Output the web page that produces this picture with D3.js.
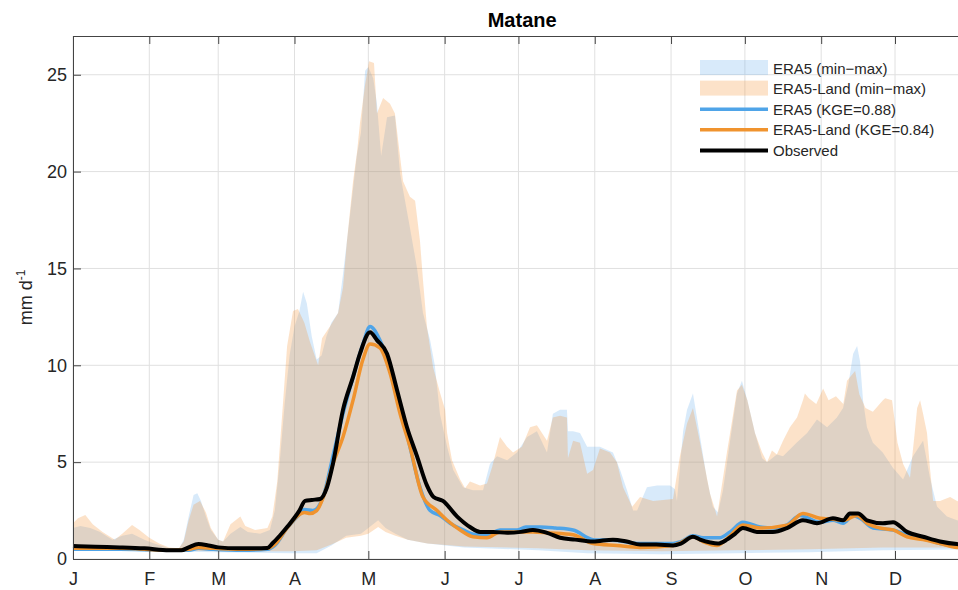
<!DOCTYPE html>
<html>
<head>
<meta charset="utf-8">
<script src="https://cdn.jsdelivr.net/npm/d3@7"></script>
<style>
body { margin: 0; background: #fff; }
svg { display: block; font-family: "Liberation Sans", Arial, sans-serif; }
</style>
</head>
<body>
<div id="chart"></div>
<script>
// month ticks (day of year) and labels
const monthStarts = [1, 32, 60, 91, 121, 152, 182, 213, 244, 274, 305, 335];
const monthLabels = ["J", "F", "M", "A", "M", "J", "J", "A", "S", "O", "N", "D"];
const yTicks = [0, 5, 10, 15, 20, 25];

// [day of year, mm/d]
const era5Max = [[1,1.6],[4,1.7],[8,1.6],[12,1.4],[17,1.0],[21,1.2],[25,1.3],[30,1.0],[34,0.8],[40,0.55],[44,0.5],[46,1.0],[48,2.2],[50,3.3],[51.5,3.4],[53,3.0],[55,2.2],[57,1.5],[60,1.0],[62,0.9],[65,1.3],[69,1.65],[72,1.4],[77,1.3],[81,1.5],[83,2.5],[85,5],[87,8],[89,10.5],[91,12],[93,12.8],[94.5,13.8],[96,13.2],[98,11.5],[100,10.3],[102,10.5],[104,11.5],[106,12.2],[108.7,12.7],[110.7,14.7],[113.6,17.8],[116.4,20.9],[118,22],[119.7,25.2],[121,25.4],[123,24.8],[124.5,23.5],[126.2,20.8],[128.6,22.8],[131.8,22.9],[133.9,19.9],[137.9,17.1],[140.8,15],[143.2,12.7],[146.1,11.3],[148,10],[150.1,7.5],[153,5.8],[155.5,4.6],[159.5,3.7],[163.5,3.55],[167.6,3.55],[170.4,4.9],[173.3,5.3],[177.4,5.1],[181.4,5.5],[185.5,6.3],[189.5,6.6],[193.6,5.5],[196,7.5],[198.9,7.7],[201.7,7.7],[202.1,6.6],[204.2,6.6],[207,6.5],[209.9,5.8],[215.1,5.8],[220.4,5.5],[223.3,4.6],[226.1,3.55],[228.6,2.5],[230.2,2.5],[234.2,3.7],[238.3,3.8],[243.6,3.8],[245.6,3.6],[246.4,3.0],[248.9,6.6],[250.5,7.7],[252.9,8.55],[255.8,6.3],[258.6,4.1],[261,2.7],[263.1,2.4],[265.1,3.55],[268,6.1],[270.8,8.55],[272.8,9.2],[275,8.2],[278.1,6.5],[281,5.2],[283,5.0],[287,5.4],[289.5,5.3],[295,6.0],[299.3,6.5],[303.3,7.2],[307.4,6.8],[311.4,7.3],[313.9,7.8],[316,9.0],[318,10.6],[319.6,11.0],[320.8,10.2],[322,8.2],[323.6,6.8],[326,6.0],[330,5.5],[334.2,4.7],[338.3,4.1],[342.3,5.3],[346.4,6.1],[349.2,4.2],[352.1,2.7],[356.1,2.2],[360.2,2.0],[365,1.9]];

const era5Min = [[1,0.45],[30,0.4],[60,0.35],[90,0.3],[100,0.3],[106,0.7],[112,1.2],[118,1.3],[121,1.6],[125,2.0],[128,1.6],[132,1.3],[137,1.0],[145,0.8],[160,0.6],[190,0.45],[210,0.3],[240,0.25],[270,0.3],[300,0.35],[330,0.45],[365,0.5]];

const landMax = [[1,1.85],[3,2.1],[6,2.27],[9,1.8],[13,1.4],[18,1.0],[21,1.3],[25,1.75],[28,1.5],[32,1.1],[36,0.8],[40,0.6],[44,0.55],[46,0.9],[48,2.0],[50,2.8],[52.6,3.0],[55,2.4],[57,1.6],[60,1.0],[62,0.9],[65,1.8],[69,2.2],[71,1.7],[75,1.5],[80,1.6],[82,2.2],[84,4],[86.3,8],[88,11],[90.4,12.8],[92.4,12.9],[95,12.2],[97.3,11.2],[100.6,10.0],[102.2,11.4],[105.4,12],[108.7,12.7],[110.7,14.0],[112.3,16.4],[114.8,19.5],[116.4,21],[117.6,22.5],[119.7,24.5],[121.3,25.7],[123.3,25.6],[124.5,23.0],[127,23.8],[129.8,23.5],[131.8,23],[135.1,19.5],[137.9,18.7],[140,18.5],[142,16.4],[143.2,14.4],[144.8,12],[147.3,9.9],[150.1,8.6],[152.2,7.7],[153,6.5],[155,5.1],[158.3,4.1],[160.3,3.65],[162.3,4.0],[166.4,3.8],[169.2,3.9],[171.3,4.75],[174.5,6.3],[177.4,5.8],[179.8,5.5],[183.4,5.8],[186.7,6.8],[189.5,6.9],[193.6,6.1],[196,7.3],[198.9,7.4],[201.7,7.3],[202.1,5.2],[204.2,6.1],[207,6.0],[209.9,4.4],[212.3,4.6],[215.1,5.7],[219.2,5.5],[222,5.0],[224.5,3.7],[228.2,2.7],[231.4,3.2],[236.7,3.0],[244.8,3.1],[247.6,5.3],[250.5,7.0],[252.9,7.8],[255.8,6.0],[259.8,3.4],[262.7,2.2],[266.7,5.5],[270.8,8.7],[272.8,9.0],[275,8.2],[278.1,6.5],[281,5.5],[283,5.0],[285,5.6],[287,5.4],[289.5,6.1],[292.3,6.8],[295.2,7.3],[297.6,8.2],[298.4,8.55],[300,8.3],[303,8.0],[305.8,8.8],[308,8.2],[311,8.4],[314,8.0],[315.5,9.2],[318.8,9.7],[320.5,8.5],[323,7.8],[326,7.6],[330.1,8.2],[331,8.3],[333.8,8.2],[336,6.0],[338.3,4.9],[341.1,4.2],[343,6.5],[344,7.8],[345.2,8.2],[346.4,7.5],[348,6.5],[349.2,4.7],[350.5,3.0],[353.3,3.0],[357.4,3.2],[360.2,3.0],[365,2.8]];

const landMin = [[1,0.5],[30,0.45],[60,0.4],[90,0.4],[100,0.45],[106,0.75],[112,1.1],[118,1.2],[121,1.3],[125,1.65],[128,1.4],[132,1.2],[137,1.0],[145,0.8],[160,0.65],[190,0.55],[210,0.45],[240,0.4],[270,0.45],[300,0.5],[330,0.6],[365,0.6]];

const era5Line = [[1,0.5],[20,0.5],[40,0.45],[48,0.45],[52,0.55],[58,0.5],[70,0.45],[80,0.5],[83,0.7],[88,1.6],[93,2.3],[95,2.55],[98.5,2.5],[102.6,3.2],[106.6,5.3],[110.7,7.5],[114.8,9.4],[118.8,11.1],[121.7,12.0],[125.7,11.3],[129.8,9.9],[133.9,8.0],[137.9,5.8],[142,3.7],[146.1,2.5],[150.1,2.25],[154.2,1.85],[159.5,1.5],[165.2,1.25],[169.2,1.25],[174.5,1.5],[181.4,1.5],[185,1.65],[190.8,1.65],[197,1.6],[204.2,1.5],[212.3,1.0],[222,0.95],[231.4,0.8],[244.8,0.8],[248,0.9],[252.9,1.2],[257,1.1],[263.9,1.1],[268,1.4],[273.2,1.9],[280.2,1.65],[285.4,1.6],[291,1.75],[296.4,2.25],[304.5,1.9],[309.8,2.0],[313.9,1.85],[318,2.25],[320.8,2.1],[326.1,1.6],[334.2,1.5],[339.9,1.25],[346.4,1.1],[353.3,0.8],[360.2,0.67],[365,0.65]];

const landLine = [[1,0.55],[20,0.55],[40,0.45],[48,0.5],[52,0.6],[58,0.55],[70,0.5],[80,0.55],[83,0.75],[88,1.6],[93,2.3],[95,2.4],[97.3,2.35],[100,2.5],[103,3.3],[106.6,4.9],[110.7,6.3],[114.8,8.2],[118.8,10.3],[121.7,11.1],[125.7,10.9],[129.8,9.6],[133.9,7.5],[137.9,5.8],[143.2,3.2],[148.9,2.5],[153,2.0],[158.3,1.5],[163.5,1.15],[169.2,1.1],[174.5,1.4],[187.9,1.4],[194,1.35],[204.2,1.25],[212.3,0.8],[222,0.7],[231.4,0.6],[244.8,0.7],[248,0.85],[252.9,1.15],[257,0.9],[262.7,0.7],[268,1.2],[273.2,1.75],[280.2,1.6],[291.1,1.75],[297.6,2.35],[304.5,2.1],[309.8,2.05],[313.9,2.0],[319.6,2.25],[323.6,1.85],[328.9,1.6],[334.2,1.5],[339.9,1.15],[346.4,1.0],[353.3,0.8],[360.2,0.6],[365,0.6]];

const observed = [[1,0.67],[10,0.63],[20,0.6],[30,0.55],[40,0.45],[45,0.45],[48,0.6],[52,0.77],[56,0.7],[60,0.6],[68,0.55],[75,0.55],[80,0.57],[82,0.8],[85,1.2],[88,1.65],[93,2.5],[95.3,3.0],[98,3.05],[101.4,3.1],[104.2,3.7],[106.6,4.9],[110.7,7.7],[114.8,9.4],[117.6,10.6],[121.7,11.7],[124.5,11.3],[128.6,10.6],[132.7,8.7],[136.7,6.8],[140.8,5.3],[144.8,3.8],[147.5,3.2],[151.3,3.0],[157,2.2],[162.3,1.65],[166.4,1.4],[171.7,1.4],[177.4,1.35],[183,1.4],[187.9,1.5],[193.6,1.35],[198.9,1.1],[205,1.0],[212.3,0.9],[220.4,1.0],[226,0.9],[231.4,0.75],[238,0.75],[244.8,0.7],[248,0.8],[252.9,1.15],[255.8,1.0],[260,0.85],[263,0.8],[266.7,1.0],[270,1.3],[273.2,1.6],[278.9,1.4],[285.4,1.4],[291.1,1.6],[297.6,2.0],[303.3,1.85],[309.8,2.1],[313.9,2.0],[316.7,2.35],[320,2.35],[323.6,2.0],[330.1,1.85],[334.2,1.9],[339.9,1.4],[346.4,1.15],[353.3,0.9],[360.2,0.77],[365,0.75]];

const width = 958, height = 590;

const x = d3.scaleLinear().domain([1, 366]).range([73, 971.3]);
const y = d3.scaleLinear().domain([0, 27]).range([559, 36]);

const svg = d3.select("#chart")
    .append("svg")
    .attr("width", width)
    .attr("height", height);

// grid
svg.append("g")
    .selectAll("line")
    .data(monthStarts)
    .enter().append("line")
    .attr("x1", d => x(d)).attr("x2", d => x(d))
    .attr("y1", y(27)).attr("y2", y(0))
    .attr("stroke", "#e0e0e0");

svg.append("g")
    .selectAll("line")
    .data(yTicks)
    .enter().append("line")
    .attr("x1", x(1)).attr("x2", x(366))
    .attr("y1", d => y(d)).attr("y2", d => y(d))
    .attr("stroke", "#e0e0e0");

const pts = d3.line().x(d => x(d[0])).y(d => y(d[1]));
const band = (upper, lower) => pts(upper.concat(lower.slice().reverse())) + "Z";

svg.append("path")
    .attr("d", band(era5Max, era5Min))
    .attr("fill", "rgb(100,170,235)")
    .attr("fill-opacity", 0.25);

svg.append("path")
    .attr("d", band(landMax, landMin))
    .attr("fill", "rgb(245,140,40)")
    .attr("fill-opacity", 0.25);

const smooth = d3.line()
    .x(d => x(d[0]))
    .y(d => y(d[1]))
    .curve(d3.curveMonotoneX);

svg.append("path")
    .attr("d", smooth(era5Line))
    .attr("fill", "none")
    .attr("stroke", "#4fa4e8")
    .attr("stroke-width", 3.5);

svg.append("path")
    .attr("d", smooth(landLine))
    .attr("fill", "none")
    .attr("stroke", "#f0932e")
    .attr("stroke-width", 3.5);

svg.append("path")
    .attr("d", smooth(observed))
    .attr("fill", "none")
    .attr("stroke", "#000")
    .attr("stroke-width", 4)
    .attr("stroke-linejoin", "round");

// axes
const styleAxis = g => {
    g.select(".domain").attr("stroke", "#444");
    g.selectAll(".tick line").attr("stroke", "#444");
    g.selectAll("text").attr("fill", "#262626").style("font-size", "18px").style("font-family", "\"Liberation Sans\", Arial, sans-serif");
};

svg.append("g")
    .attr("transform", `translate(0,${y(0)})`)
    .call(d3.axisBottom(x).tickValues(monthStarts).tickFormat((d, i) => monthLabels[i])
        .tickSizeInner(-8).tickSizeOuter(0).tickPadding(13))
    .call(styleAxis);

svg.append("g")
    .attr("transform", `translate(0,${y(27)})`)
    .call(d3.axisTop(x).tickValues(monthStarts).tickFormat("")
        .tickSizeInner(-8).tickSizeOuter(0))
    .call(styleAxis);

svg.append("g")
    .attr("transform", `translate(${x(1)},0)`)
    .call(d3.axisLeft(y).tickValues(yTicks).tickSizeInner(-8).tickSizeOuter(0).tickPadding(6))
    .call(styleAxis);

// y label
const ylab = svg.append("text")
    .attr("transform", `translate(32,${(y(0) + y(27)) / 2}) rotate(-90)`)
    .attr("text-anchor", "middle")
    .attr("fill", "#262626")
    .style("font-size", "18px");
ylab.append("tspan").text("mm d");
ylab.append("tspan").attr("dy", -7).style("font-size", "12px").text("-1");

// title
svg.append("text")
    .attr("x", (x(1) + x(366)) / 2)
    .attr("y", 27)
    .attr("text-anchor", "middle")
    .attr("font-weight", "bold")
    .attr("fill", "#000")
    .style("font-size", "20px")
    .text("Matane");

// legend
const legendItems = [
    { label: "ERA5 (min\u2212max)", type: "patch", color: "rgb(100,170,235)" },
    { label: "ERA5-Land (min\u2212max)", type: "patch", color: "rgb(245,140,40)" },
    { label: "ERA5 (KGE=0.88)", type: "line", color: "#4fa4e8", w: 3.5 },
    { label: "ERA5-Land (KGE=0.84)", type: "line", color: "#f0932e", w: 3.5 },
    { label: "Observed", type: "line", color: "#000", w: 4 }
];

const legend = svg.append("g").attr("transform", "translate(700,68)");
const item = legend.selectAll("g")
    .data(legendItems)
    .enter().append("g")
    .attr("transform", (d, i) => `translate(0,${i * 20.6})`);

item.filter(d => d.type === "patch").append("rect")
    .attr("x", 0).attr("y", -8).attr("width", 68).attr("height", 15)
    .attr("fill", d => d.color).attr("fill-opacity", 0.25);

item.filter(d => d.type === "line").append("line")
    .attr("x1", 0).attr("x2", 68).attr("y1", 0).attr("y2", 0)
    .attr("stroke", d => d.color).attr("stroke-width", d => d.w);

item.append("text")
    .attr("x", 73).attr("y", 5.5)
    .attr("fill", "#262626")
    .style("font-size", "15px")
    .text(d => d.label);
</script>
</body>
</html>
